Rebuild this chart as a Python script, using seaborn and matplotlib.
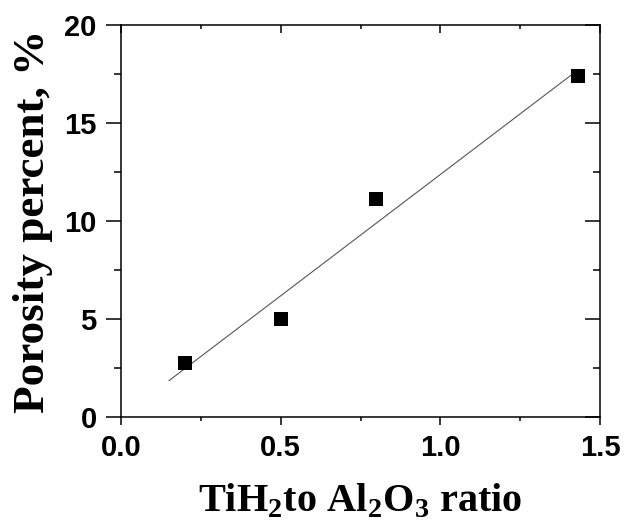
import numpy as np
import pandas as pd
import matplotlib
matplotlib.use("Agg")
import matplotlib.pyplot as plt
import seaborn as sns
from matplotlib.ticker import MultipleLocator, FormatStrFormatter

# data
ratio = [0.2, 0.5, 0.8, 1.43]
porosity = [2.75, 5.0, 11.1, 17.4]
fit_range = [0.15, 1.41]

sns.set_style("ticks")
plt.rcParams['font.family'] = ['Liberation Sans', 'DejaVu Sans']
plt.rcParams['mathtext.fontset'] = 'custom'
plt.rcParams['mathtext.rm'] = 'Liberation Serif'
plt.rcParams['mathtext.bf'] = 'Liberation Serif:bold'
for key in ['text.color', 'axes.labelcolor', 'xtick.color', 'ytick.color']:
    plt.rcParams[key] = 'black'

df = pd.DataFrame({'ratio': ratio, 'porosity': porosity})

# linear fit through the origin
slope = np.sum(df.ratio * df.porosity) / np.sum(df.ratio ** 2)
fit = pd.DataFrame({'x': fit_range, 'y': [slope * v for v in fit_range]})

fig = plt.figure(figsize=(6.24, 5.32), dpi=100)
ax = fig.add_axes([0.194, 0.216, 0.7675, 0.737])

sns.lineplot(data=fit, x='x', y='y', ax=ax, color='#555555', linewidth=0.8)
sns.scatterplot(data=df, x='ratio', y='porosity', ax=ax, marker='s', s=105,
                color='black', edgecolor='black', linewidth=0, zorder=3)

ax.set_xlim(0, 1.5)
ax.set_ylim(0, 20)
ax.xaxis.set_major_locator(MultipleLocator(0.5))
ax.xaxis.set_minor_locator(MultipleLocator(0.25))
ax.yaxis.set_major_locator(MultipleLocator(5))
ax.yaxis.set_minor_locator(MultipleLocator(2.5))
ax.xaxis.set_major_formatter(FormatStrFormatter('%.1f'))

for side in ['left', 'right', 'top', 'bottom']:
    ax.spines[side].set_linewidth(1.1)
    ax.spines[side].set_color('black')

ax.tick_params(axis='x', which='major', direction='out', length=5.5, width=1.1, pad=7,
               labelsize=21, top=True)
ax.tick_params(axis='x', which='minor', direction='out', length=3, width=1.1, top=True)
ax.tick_params(axis='y', which='major', direction='out', length=10.5, width=1.1, pad=7,
               labelsize=21, right=True)
ax.tick_params(axis='y', which='minor', direction='out', length=5, width=1.1, right=True)
# top and right ticks point inward
for t in ax.xaxis.get_major_ticks() + ax.xaxis.get_minor_ticks():
    t.tick2line.set_marker(matplotlib.lines.TICKDOWN)
for t in ax.yaxis.get_major_ticks() + ax.yaxis.get_minor_ticks():
    t.tick2line.set_marker(matplotlib.lines.TICKLEFT)

for lab in ax.get_xticklabels() + ax.get_yticklabels():
    lab.set_fontweight('bold')

ax.set_xlabel(r'TiH$_\mathbf{2}$to Al$_\mathbf{2}$O$_\mathbf{3}$ ratio',
              family='Liberation Serif', fontweight='bold', fontsize=29, labelpad=14)
ax.set_ylabel('Porosity percent, %', family='Liberation Serif', fontweight='bold',
              fontsize=32.5, labelpad=8)

fig.savefig('out.png', dpi=100)
